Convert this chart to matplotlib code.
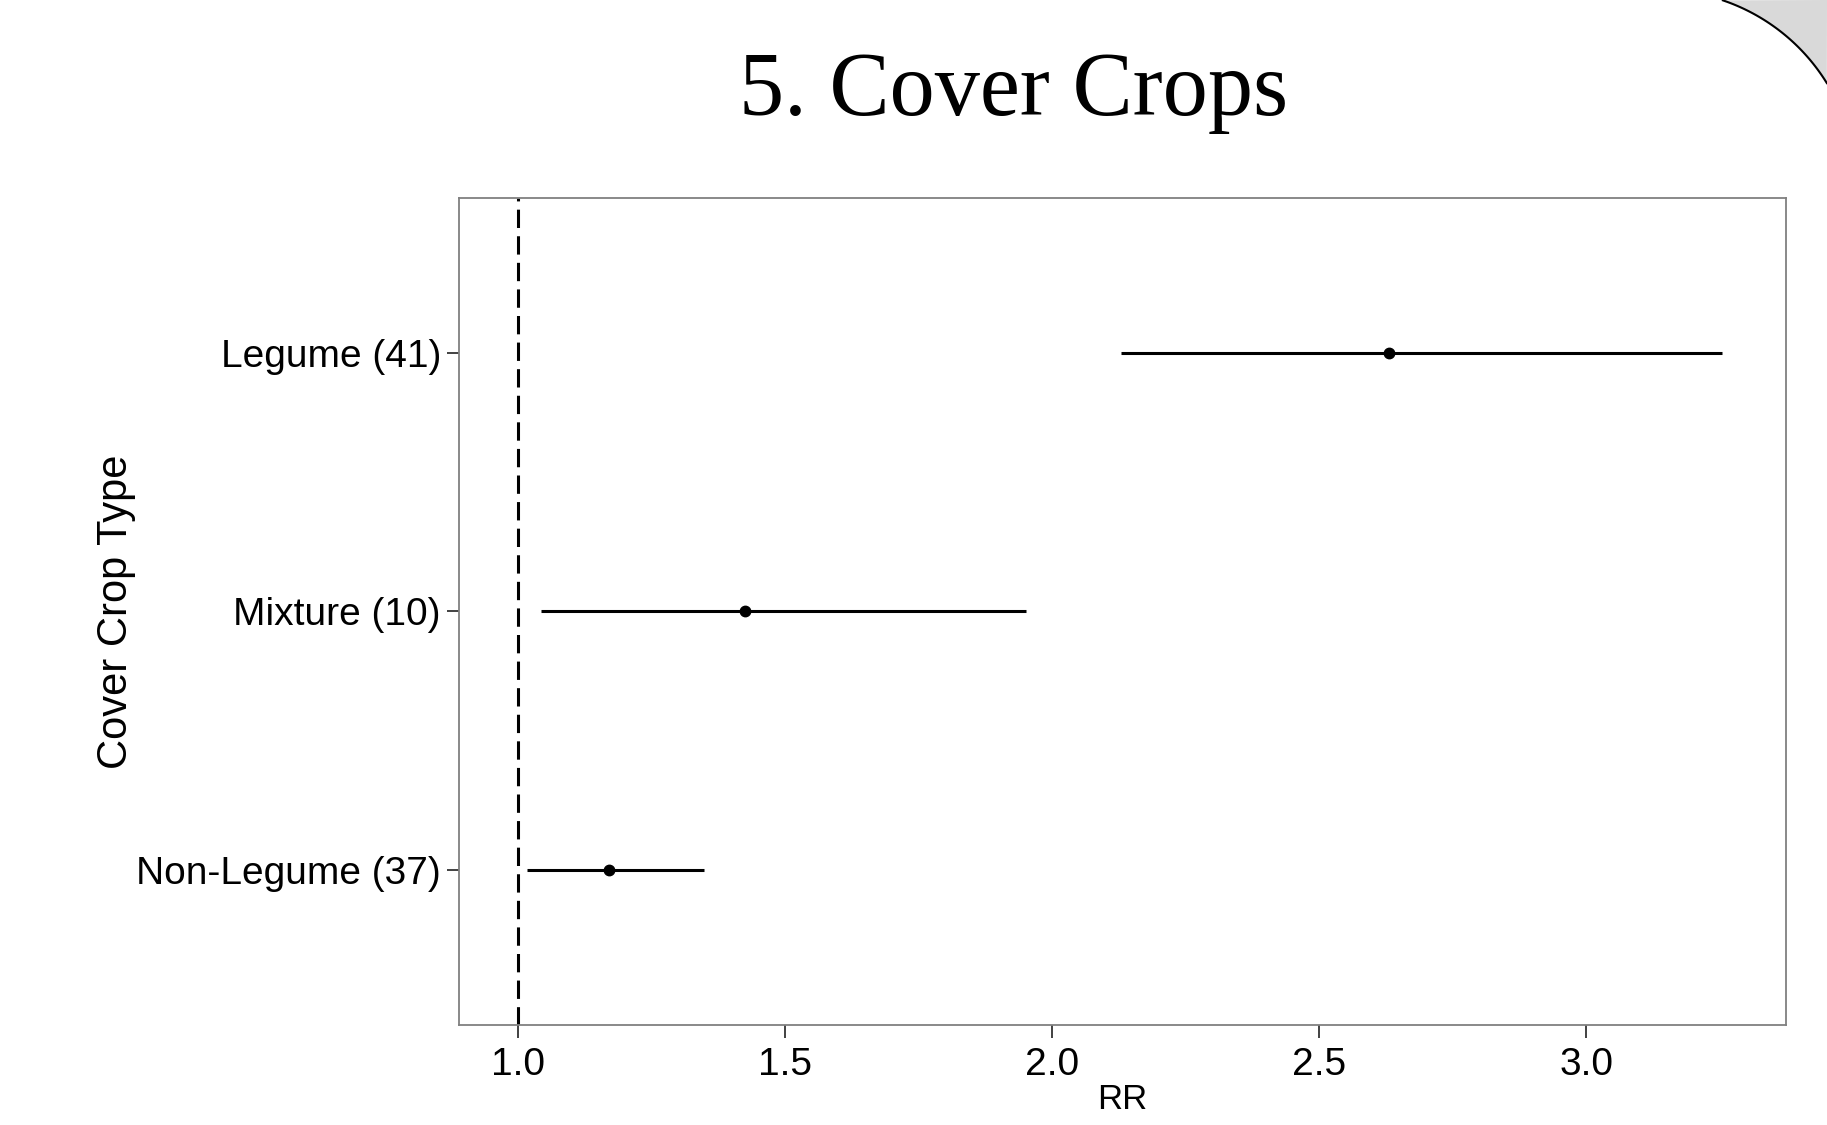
import numpy as np
import matplotlib
matplotlib.use("Agg")
import matplotlib.pyplot as plt

plt.rcParams['font.family'] = ['Liberation Sans', 'DejaVu Sans']

# %% data
categories = ["Non-Legume (37)", "Mixture (10)", "Legume (41)"]
rr = [1.170, 1.426, 2.630]
ci_low = [1.017, 1.043, 2.130]
ci_high = [1.348, 1.952, 3.254]
xticks = [1.0, 1.5, 2.0, 2.5, 3.0]

# %% figure
fig = plt.figure(figsize=(18.27, 11.25), dpi=100)
ax = fig.add_axes([0.2512, 0.0889, 0.7264, 0.7351])

ypos = np.arange(1, len(categories) + 1)
ax.axvline(1.0, color='black', lw=2.2, ls=(0, (6, 2.7)), zorder=1)
ax.hlines(ypos, ci_low, ci_high, color='black', lw=2.2, zorder=2)
ax.plot(rr, ypos, 'o', color='black', ms=7.5, zorder=3)

ax.set_xlim(0.89, 3.374)
ax.set_ylim(0.4, 3.6)
ax.set_xticks(xticks)
ax.set_xticklabels([f"{v:.1f}" for v in xticks])
ax.set_yticks(ypos)
ax.set_yticklabels(categories)
ax.tick_params(axis='both', labelsize=28, length=9, width=1.3, color='#333333',
               labelcolor='black')
ax.tick_params(axis='x', pad=7)
ax.tick_params(axis='y', pad=4)
for s in ax.spines.values():
    s.set_color('#808080')
    s.set_linewidth(1.3)

ax.set_xlabel("RR", fontsize=25, labelpad=0)
ax.set_ylabel("Cover Crop Type", fontsize=30, labelpad=0)

fig.text(0.555, 0.918, "5. Cover Crops", family='Liberation Serif',
         fontsize=65, ha='center', va='center')

# %% page-curl decoration in the top right corner
deco = fig.add_axes([0, 0, 1, 1], zorder=-1)
deco.set_xlim(0, 1827)
deco.set_ylim(1125, 0)
deco.axis('off')
cx, cy, r = 1660, 186, 196
a0 = np.arctan2(0 - cy, 1723 - cx)
a1 = np.arctan2(83 - cy, 1827 - cx)
t = np.linspace(a0, a1, 60)
arc_x = cx + r * np.cos(t)
arc_y = cy + r * np.sin(t)
deco.fill(np.r_[arc_x, 1827], np.r_[arc_y, 0], color='#d9d9d9', lw=0)
deco.plot(arc_x, arc_y, color='black', lw=1.5)

fig.savefig("out.png", dpi=100)
